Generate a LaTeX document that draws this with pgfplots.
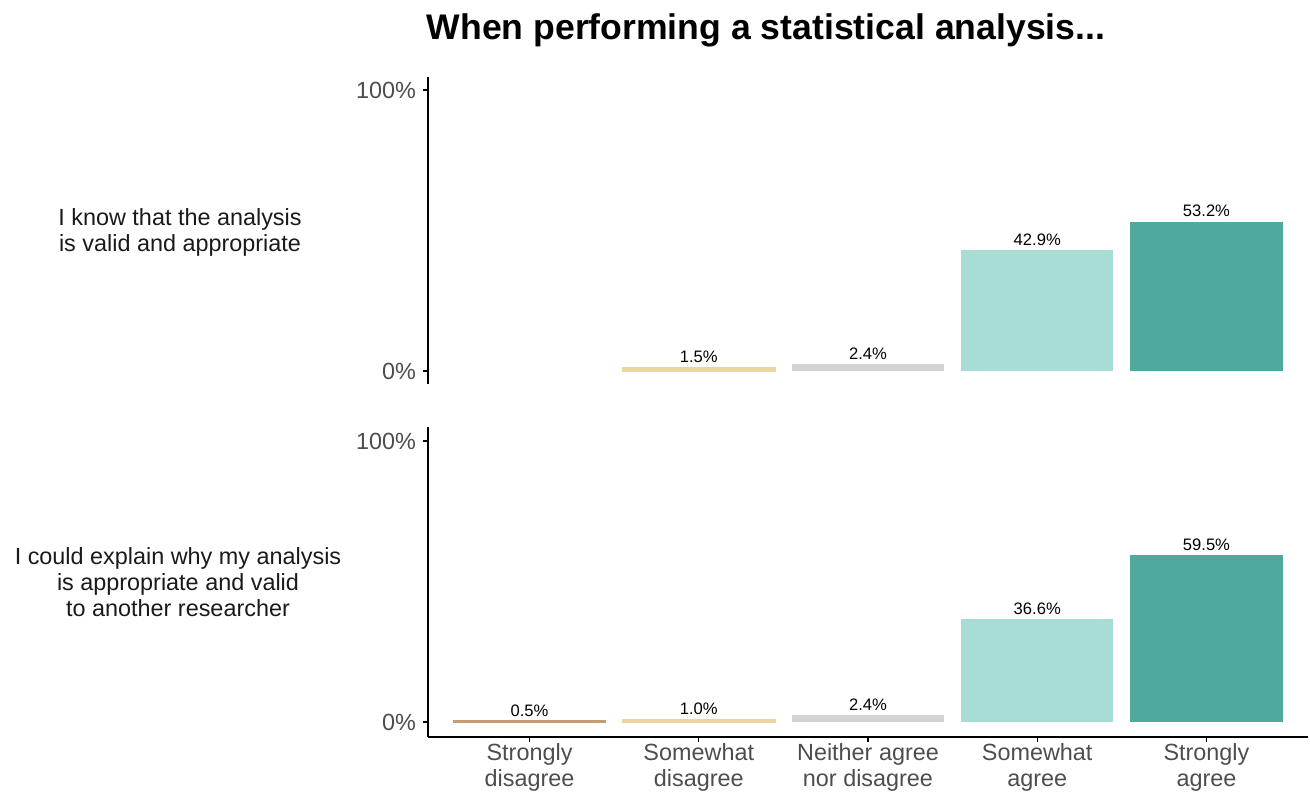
\documentclass[border=0pt]{standalone}
\usepackage{pgfplots}
\pgfplotsset{compat=1.18}
\usepackage{fontspec}
\setmainfont{Liberation Sans}
\definecolor{c1}{HTML}{C49D74}
\definecolor{c2}{HTML}{EBD6A2}
\definecolor{c3}{HTML}{D3D3D3}
\definecolor{c4}{HTML}{A8DDD5}
\definecolor{c5}{HTML}{4FAA9D}
\definecolor{tickgray}{HTML}{4D4D4D}
\definecolor{labblack}{HTML}{1A1A1A}
\pgfplotsset{
 panel/.style={
  scale only axis, width=440pt, xmin=-0.6, xmax=4.6, enlargelimits=false,
  ybar, bar width=0.9,
  ytick={0,100}, yticklabels={0\%,100\%},
  tick label style={font=\fontsize{11.7}{13}\selectfont, text=tickgray},
  tick style={black, line width=0.6pt},
  tick align=outside, major tick length=2.5pt,
  axis line style={line width=0.6pt, -},
  /pgf/number format/assume math mode=true,
  nodes near coords={\pgfmathprintnumber[fixed,fixed zerofill,precision=1]{\pgfplotspointmeta}\%},
  every node near coord/.append style={font=\fontsize{8.3}{9}\selectfont, text=black, inner sep=2pt},
  every axis plot/.append style={bar shift=0pt},
 }
}
\begin{document}
\begin{tikzpicture}
\useasboundingbox (0,0) rectangle (655pt,-396pt);
\node[font=\bfseries\fontsize{17.8}{20}\selectfont, anchor=base] at (383pt,-20pt) {When performing a statistical analysis...};
\begin{axis}[panel, at={(214pt,-38.5pt)}, anchor=north west, height=153.5pt,
  ymin=-4.63, ymax=104.63, axis y line*=left, axis x line=none, xtick=\empty]
\addplot[fill=c2, draw=c2, line width=0.2pt] coordinates {(1,1.5)};
\addplot[fill=c3, draw=none] coordinates {(2,2.4)};
\addplot[fill=c4, draw=none] coordinates {(3,42.9)};
\addplot[fill=c5, draw=none] coordinates {(4,53.2)};
\end{axis}
\begin{axis}[panel, at={(214pt,-213.5pt)}, anchor=north west, height=155pt,
  ymin=-5.34, ymax=104.98, axis y line*=left, axis x line*=bottom,
  xtick={0,1,2,3,4},
  xticklabels={{Strongly\\disagree},{Somewhat\\disagree},{Neither agree\\nor disagree},{Somewhat\\agree},{Strongly\\agree}},
  xticklabel style={align=center, font=\fontsize{11.7}{13}\selectfont, inner sep=0pt, yshift=-0.5pt}]
\addplot[fill=c1, draw=c1, line width=0.3pt] coordinates {(0,0.5)};
\addplot[fill=c2, draw=c2, line width=0.2pt] coordinates {(1,1.0)};
\addplot[fill=c3, draw=none] coordinates {(2,2.4)};
\addplot[fill=c4, draw=none] coordinates {(3,36.6)};
\addplot[fill=c5, draw=none] coordinates {(4,59.5)};
\end{axis}
\node[align=center, text=labblack, font=\fontsize{11.7}{13}\selectfont] at (90pt,-116pt) {I know that the analysis\\is valid and appropriate};
\node[align=center, text=labblack, font=\fontsize{11.7}{13}\selectfont] at (89pt,-291pt) {I could explain why my analysis\\is appropriate and valid\\to another researcher};
\end{tikzpicture}
\end{document}
